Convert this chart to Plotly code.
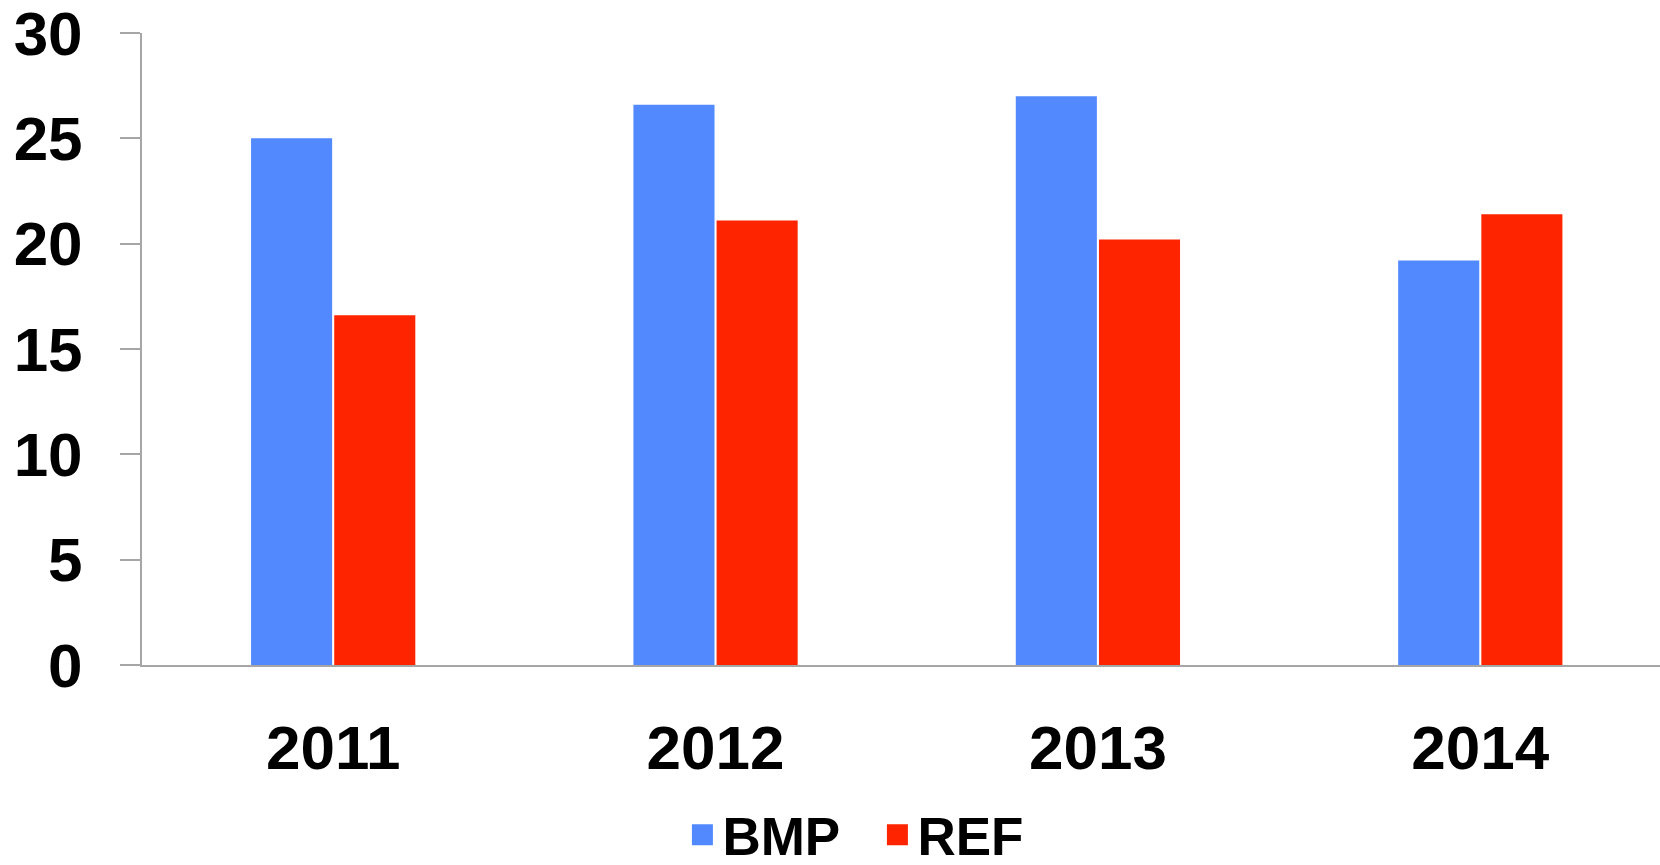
import plotly.graph_objects as go

years = ["2011", "2012", "2013", "2014"]
bmp = [25.0, 26.6, 27.0, 19.2]
ref = [16.6, 21.1, 20.2, 21.4]
y_ticks = [0, 5, 10, 15, 20, 25, 30]

BLUE = "#5289FF"
RED = "#FF2400"
FONT = "Liberation Sans, Arial, sans-serif"

fig = go.Figure()
fig.add_trace(go.Bar(x=years, y=bmp, name="BMP", marker=dict(color=BLUE, line=dict(width=0)), showlegend=False))
fig.add_trace(go.Bar(x=years, y=ref, name="REF", marker=dict(color=RED, line=dict(width=0)), showlegend=False))
# legend entries
fig.add_trace(go.Scatter(x=[None], y=[None], mode="markers", name="BMP",
                         marker=dict(symbol="square", size=16, color=BLUE, line=dict(color=BLUE, width=5))))
fig.add_trace(go.Scatter(x=[None], y=[None], mode="markers", name="REF",
                         marker=dict(symbol="square", size=16, color=RED, line=dict(color=RED, width=5))))

fig.update_layout(
    width=1660, height=865,
    margin=dict(l=142, r=0, t=33, b=200, autoexpand=False),
    plot_bgcolor="white", paper_bgcolor="white",
    barmode="group", bargap=0.565, bargroupgap=0.025,
    font=dict(family=FONT, color="black"),
    showlegend=True,
    legend=dict(orientation="h", x=0.356, xanchor="left", xref="paper",
                y=0.035, yanchor="middle", yref="container",
                font=dict(family=FONT, size=53, weight="bold", color="black"),
                entrywidth=150, entrywidthmode="pixels", itemsizing="trace",
                bgcolor="rgba(0,0,0,0)"),
    xaxis=dict(type="category", range=[-0.5, 3.47], showline=True, linecolor="#A6A6A6", linewidth=2,
               ticks="", showgrid=False, zeroline=False,
               tickfont=dict(family=FONT, size=62, weight="bold", color="black"),
               ticklabelstandoff=28, ticklabeloverflow="allow"),
    yaxis=dict(range=[0, 30], tickvals=y_ticks, showline=True, linecolor="#A6A6A6", linewidth=2,
               ticks="outside", ticklen=20, tickwidth=2, tickcolor="#A6A6A6",
               showgrid=False, zeroline=False,
               tickfont=dict(family=FONT, size=62, weight="bold", color="black"),
               ticklabelstandoff=25, ticklabeloverflow="allow"),
)

fig.write_html("out.html")
